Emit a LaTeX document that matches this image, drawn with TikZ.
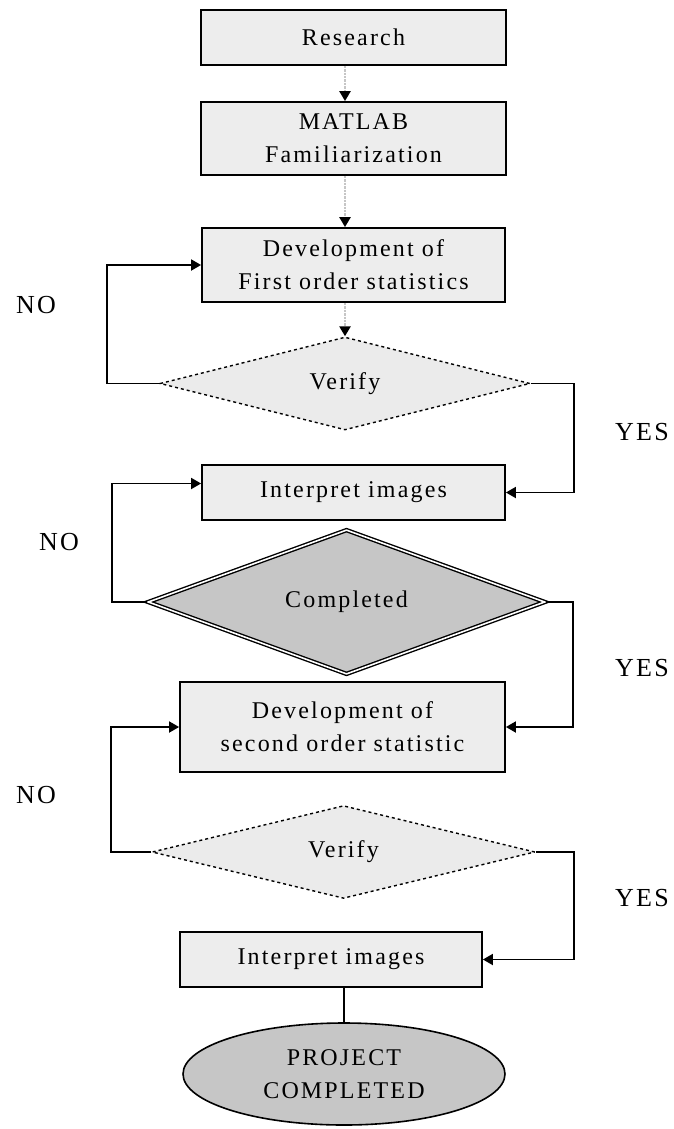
\documentclass[tikz,border=0pt]{standalone}
\usepackage{fontspec}
\setmainfont{Liberation Serif}[LetterSpace=9]
\usetikzlibrary{arrows.meta,shapes.geometric}

\begin{document}
\begin{tikzpicture}
  [
    x=1pt, y=-1pt,
    every node/.style={font=\fontsize{24}{33}\selectfont, align=center, inner sep=0pt},
    stage/.style={draw, line width=1.8pt, fill=gray!14},
    check/.style={diamond, draw, dashed, line width=1.4pt, fill=gray!16},
    done/.style={diamond, draw, line width=1.4pt, double=white, double distance=1.6pt, fill=gray!45},
    goal/.style={ellipse, draw, line width=1.6pt, fill=gray!45},
    answer/.style={font=\fontsize{26}{30}\selectfont},
    tip/.style={-{Triangle[width=11pt, length=10pt, color=black]}},
    down/.style={tip, line width=2.4pt, gray!45, densely dotted},
    loop/.style={tip, line width=1.8pt}
  ]
  \useasboundingbox (0, 0) rectangle (674, 1129);
  \coordinate (spine) at (345, 0);

  \node[stage, minimum width=305pt, minimum height=55pt] (research) at (353.5, 37.5) {Research};
  \node[stage, minimum width=305pt, minimum height=73pt] (matlab) at (353.5, 138.5) {MATLAB\\Familiarization};
  \node[stage, minimum width=303pt, minimum height=74pt] (first) at (353.5, 265) {Development of\\First order statistics};
  \node[check, minimum width=370pt, minimum height=93pt] (verifyA) at (345, 383.5) {Verify};
  \node[stage, minimum width=303pt, minimum height=55pt] (interpA) at (353.5, 492.5) {Interpret images};
  \node[done, minimum width=397pt, minimum height=95pt] (completed) at (346.5, 602) {Completed};
  \node[stage, minimum width=325pt, minimum height=90pt] (second) at (342.5, 727) {Development of\\second order statistic};
  \node[check, minimum width=383pt, minimum height=92pt] (verifyB) at (343.5, 852) {Verify};
  \node[stage, minimum width=302pt, minimum height=55pt] (interpB) at (331, 959.5) {Interpret images};
  \node[goal, minimum width=322pt, minimum height=102pt] (project) at (344, 1074) {PROJECT\\COMPLETED};

  \draw[down] (research.south -| spine) -- (matlab.north -| spine);
  \draw[down] (matlab.south -| spine) -- (first.north -| spine);
  \draw[down] (first.south -| spine) -- (verifyA.north);

  \draw[loop] (verifyA.west) -- ++(-52, 0) |- (first.west);
  \draw[loop] (verifyA.east) -- ++(43, 0) |- (interpA.east);
  \draw[loop] (completed.west) -- ++(-35, 0) |- ([yshift=9pt]interpA.west);
  \draw[loop] (completed.east) -- ++(27, 0) |- (second.east);
  \draw[loop] (verifyB.west) -- ++(-40, 0) |- (second.west);
  \draw[loop] (verifyB.east) -- ++(38, 0) |- (interpB.east);
  \draw[line width=1.8pt] (interpB.south -| project.north) -- (project.north);

  \node[answer] (noA) at (36, 305) {NO};
  \node[answer] (yesA) at (642, 432) {YES};
  \node[answer] (noB) at (59, 542) {NO};
  \node[answer] (yesB) at (642, 668) {YES};
  \node[answer] (noC) at (36, 795) {NO};
  \node[answer] (yesC) at (642, 898) {YES};
\end{tikzpicture}
\end{document}
